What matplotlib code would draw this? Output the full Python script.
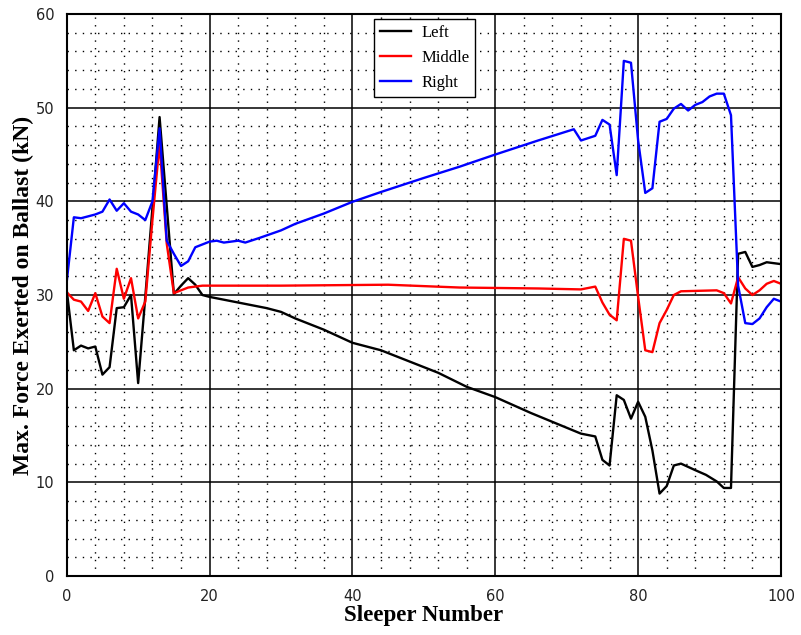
import matplotlib
matplotlib.use("Agg")
import matplotlib.pyplot as plt
from matplotlib.ticker import MultipleLocator

# Sleeper positions and peak ballast forces (kN)
left_x = [0, 1, 2, 3, 4, 5, 6, 7, 8, 9, 10, 11, 12, 13, 15, 16, 17, 18, 19, 20,
          24, 28, 30, 32, 36, 40, 44, 48, 52, 56, 60, 65, 72, 74, 75, 76, 77, 78,
          79, 80, 81, 82, 83, 84, 85, 86, 88, 89.5, 91, 92, 93, 94, 95, 96, 97,
          98, 99, 100]
left_y = [30.5, 24.1, 24.6, 24.3, 24.5, 21.5, 22.3, 28.6, 28.7, 30.0, 20.6, 29.8,
          39.3, 49.0, 30.1, 31.0, 31.8, 31.1, 30.0, 29.8, 29.2, 28.6, 28.2, 27.5,
          26.3, 24.9, 24.1, 22.9, 21.7, 20.2, 19.1, 17.4, 15.2, 14.9, 12.4, 11.8,
          19.3, 18.8, 16.8, 18.6, 17.0, 13.4, 8.8, 9.6, 11.8, 12.0, 11.3, 10.8,
          10.1, 9.4, 9.4, 34.4, 34.6, 33.0, 33.2, 33.5, 33.4, 33.3]

middle_x = [0, 1, 2, 3, 4, 5, 6, 7, 8, 9, 10, 11, 12, 13, 14, 15, 17, 19, 30, 45,
            55, 66, 72, 74, 75, 76, 77, 78, 79, 80, 81, 82, 83, 84, 85, 86, 91, 92,
            93, 94, 95, 96, 97, 98, 99, 100]
middle_y = [30.3, 29.5, 29.3, 28.3, 30.2, 27.7, 27.0, 32.8, 29.6, 31.8, 27.5, 29.3,
            38.0, 46.2, 35.5, 30.2, 30.8, 31.0, 31.0, 31.1, 30.8, 30.7, 30.6, 30.9,
            29.2, 27.9, 27.3, 36.0, 35.8, 29.8, 24.1, 23.9, 27.0, 28.4, 30.0, 30.4,
            30.5, 30.2, 29.1, 31.9, 30.7, 30.0, 30.5, 31.2, 31.5, 31.2]

right_x = [0, 1, 2, 3, 4, 5, 6, 7, 8, 9, 10, 11, 12, 13, 14, 15, 16, 17, 18, 20,
           21, 22, 24, 25, 27, 30, 32, 36, 40, 44, 50, 55, 60, 66, 71, 72, 74, 75,
           76, 77, 78, 79, 80, 81, 82, 83, 84, 85, 86, 87, 88, 89, 90, 91, 92, 93,
           94, 95, 96, 97, 98, 99, 100]
right_y = [31.4, 38.3, 38.2, 38.4, 38.6, 38.9, 40.2, 39.0, 39.8, 38.9, 38.6, 38.0,
           40.0, 47.8, 35.8, 34.4, 33.1, 33.6, 35.1, 35.7, 35.8, 35.6, 35.8, 35.6,
           36.1, 36.9, 37.6, 38.7, 39.95, 41.0, 42.5, 43.7, 45.0, 46.5, 47.7, 46.5,
           47.0, 48.7, 48.2, 42.8, 55.0, 54.8, 46.5, 40.9, 41.4, 48.5, 48.8, 49.9,
           50.4, 49.7, 50.3, 50.6, 51.2, 51.5, 51.5, 49.2, 31.0, 27.0, 26.9, 27.5,
           28.7, 29.6, 29.3]

serif = "Liberation Serif"

fig = plt.figure(figsize=(8.01, 6.35), dpi=100)
ax = fig.add_axes([0.0833, 0.0929, 0.8917, 0.8850])

ax.plot(left_x, left_y, color="black", lw=1.7, label="Left")
ax.plot(middle_x, middle_y, color="#ff0000", lw=1.7, label="Middle")
ax.plot(right_x, right_y, color="#0000ff", lw=1.7, label="Right")

ax.set_xlim(0, 100)
ax.set_ylim(0, 60)
ax.xaxis.set_major_locator(MultipleLocator(20))
ax.xaxis.set_minor_locator(MultipleLocator(4))
ax.yaxis.set_major_locator(MultipleLocator(10))
ax.yaxis.set_minor_locator(MultipleLocator(2))

ax.grid(which="major", color="black", lw=1.1, ls="-")
ax.grid(which="minor", color="black", lw=1.0, ls=(0, (1, 4.5)))
ax.set_axisbelow(True)
ax.tick_params(which="both", length=0)
ax.tick_params(axis="y", pad=9, labelsize=10.5, colors="#222222")
ax.tick_params(axis="x", pad=9, labelsize=10.5, colors="#222222")
for s in ax.spines.values():
    s.set_linewidth(1.5)

ax.set_xlabel("Sleeper Number", family=serif, weight="bold", fontsize=16.5, labelpad=1)
ax.set_ylabel("Max. Force Exerted on Ballast (kN)", family=serif, weight="bold",
              fontsize=17)
ax.yaxis.set_label_coords(-0.046, 0.5)

leg = ax.legend(loc="upper center", bbox_to_anchor=(0.501, 1.0), borderaxespad=0.3,
                fancybox=False, framealpha=1, edgecolor="black", handlelength=1.9,
                handletextpad=0.6, labelspacing=0.55, borderpad=0.35,
                prop={"family": serif, "size": 12})
leg.get_frame().set_linewidth(1.0)

fig.savefig("out.png", dpi=100)
